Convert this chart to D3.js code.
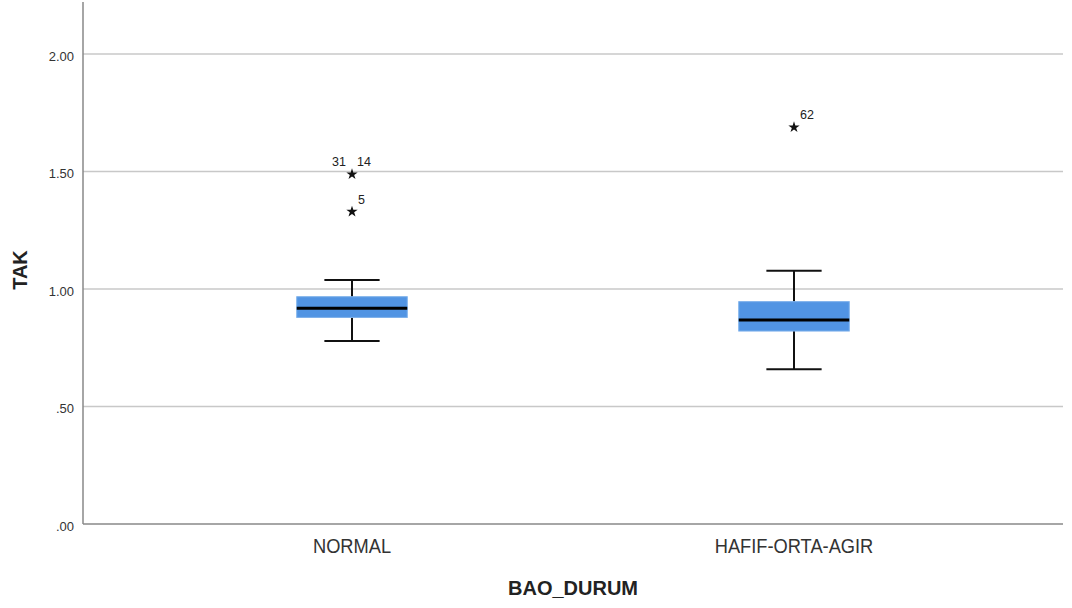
<!DOCTYPE html>
<html><head><meta charset="utf-8">
<script src="https://cdn.jsdelivr.net/npm/d3@7"></script>
<style>body{margin:0;background:#fff;} svg{display:block;}</style>
</head><body>
<svg id="c" width="1072" height="608"></svg>
<script>
const categories = ["NORMAL", "HAFIF-ORTA-AGIR"];
const whiskerLow = [0.779, 0.658];
const q1 = [0.879, 0.821];
const median = [0.918, 0.868];
const q3 = [0.967, 0.946];
const whiskerHigh = [1.038, 1.078];
const outlierCategory = ["NORMAL", "NORMAL", "HAFIF-ORTA-AGIR"];
const outlierValue = [1.488, 1.329, 1.688];
const outlierLabel = [["31", "14"], ["5"], ["62"]];
const yTicks = [0, 0.5, 1.0, 1.5, 2.0];
const yTickLabels = [".00", ".50", "1.00", "1.50", "2.00"];

const svg = d3.select("#c");
const L = 83, R = 1063, T = 2, B = 524;
const y = d3.scaleLinear().domain([0, 2.221]).range([B, T]);
const x = d3.scaleBand().domain(categories).range([131, 1015]);
const bw = x.bandwidth() * 0.25;
const capHalf = x.bandwidth() * 0.0625;

// gridlines
svg.append("g").selectAll("line").data(yTicks.filter(d => d > 0)).join("line")
  .attr("x1", L).attr("x2", R).attr("y1", d => y(d)).attr("y2", d => y(d))
  .attr("stroke", "#c8c8c8").attr("stroke-width", 1.5);

// axes
const yAxis = d3.axisLeft(y).tickValues(yTicks).tickFormat((d, i) => yTickLabels[i]).tickSize(0).tickPadding(9);
const gy = svg.append("g").attr("transform", `translate(${L},0)`).call(yAxis);
gy.select(".domain").remove();
gy.selectAll("text").attr("dy", "0.5em").attr("font-family", "Liberation Sans, Arial, sans-serif").attr("font-size", 13).attr("fill", "#333");
svg.append("line").attr("x1", L).attr("x2", L).attr("y1", T).attr("y2", B).attr("stroke", "#888").attr("stroke-width", 1.5);
svg.append("line").attr("x1", L).attr("x2", R).attr("y1", B).attr("y2", B).attr("stroke", "#888").attr("stroke-width", 1.5);

const xAxis = d3.axisBottom(x).tickSize(0).tickPadding(0);
const gx = svg.append("g").attr("transform", `translate(0,${B})`).call(xAxis);
gx.select(".domain").remove();
gx.selectAll("text")
  .attr("y", 29).attr("dy", 0)
  .attr("transform", "scale(0.87,1)")
  .attr("font-family", "Liberation Sans, Arial, sans-serif")
  .attr("font-size", 21).attr("fill", "#333");

// titles
svg.append("text").attr("x", 573).attr("y", 595).attr("text-anchor", "middle")
  .attr("font-family", "Liberation Sans, Arial, sans-serif").attr("font-weight", "bold").attr("font-size", 20).attr("fill", "#222")
  .text("BAO_DURUM");
svg.append("text").attr("transform", "translate(27,270) rotate(-90)").attr("text-anchor", "middle")
  .attr("font-family", "Liberation Sans, Arial, sans-serif").attr("font-weight", "bold").attr("font-size", 20).attr("fill", "#222")
  .text("TAK");

// boxes
const g = svg.append("g");
categories.forEach((c, i) => {
  const cx = x(c) + x.bandwidth() / 2;
  g.append("line").attr("x1", cx).attr("x2", cx).attr("y1", y(whiskerHigh[i])).attr("y2", y(q3[i])).attr("stroke", "#111").attr("stroke-width", 2);
  g.append("line").attr("x1", cx).attr("x2", cx).attr("y1", y(q1[i])).attr("y2", y(whiskerLow[i])).attr("stroke", "#111").attr("stroke-width", 2);
  g.append("line").attr("x1", cx - capHalf).attr("x2", cx + capHalf).attr("y1", y(whiskerHigh[i])).attr("y2", y(whiskerHigh[i])).attr("stroke", "#111").attr("stroke-width", 2);
  g.append("line").attr("x1", cx - capHalf).attr("x2", cx + capHalf).attr("y1", y(whiskerLow[i])).attr("y2", y(whiskerLow[i])).attr("stroke", "#111").attr("stroke-width", 2);
  g.append("rect").attr("x", cx - bw / 2).attr("width", bw).attr("y", y(q3[i])).attr("height", y(q1[i]) - y(q3[i]))
    .attr("fill", "#5194e3").attr("stroke", "#7aaeea").attr("stroke-width", 1);
  g.append("line").attr("x1", cx - bw / 2).attr("x2", cx + bw / 2).attr("y1", y(median[i])).attr("y2", y(median[i])).attr("stroke", "#000").attr("stroke-width", 3);
});

// outliers
const star = d3.symbol().type(d3.symbolStar).size(40);
outlierValue.forEach((v, i) => {
  const cx = x(outlierCategory[i]) + x.bandwidth() / 2;
  const cy = y(v);
  g.append("path").attr("d", star).attr("transform", `translate(${cx},${cy})`).attr("fill", "#111");
  const labs = outlierLabel[i];
  const two = labs.length === 2;
  labs.forEach((lab, j) => {
    g.append("text")
      .attr("x", two ? (j === 0 ? cx - 6 : cx + 5) : cx + 6)
      .attr("y", cy - 8)
      .attr("text-anchor", two && j === 0 ? "end" : "start")
      .attr("font-family", "Liberation Sans, Arial, sans-serif").attr("font-size", 12.5).attr("fill", "#222")
      .text(lab);
  });
});
</script>
</body></html>
